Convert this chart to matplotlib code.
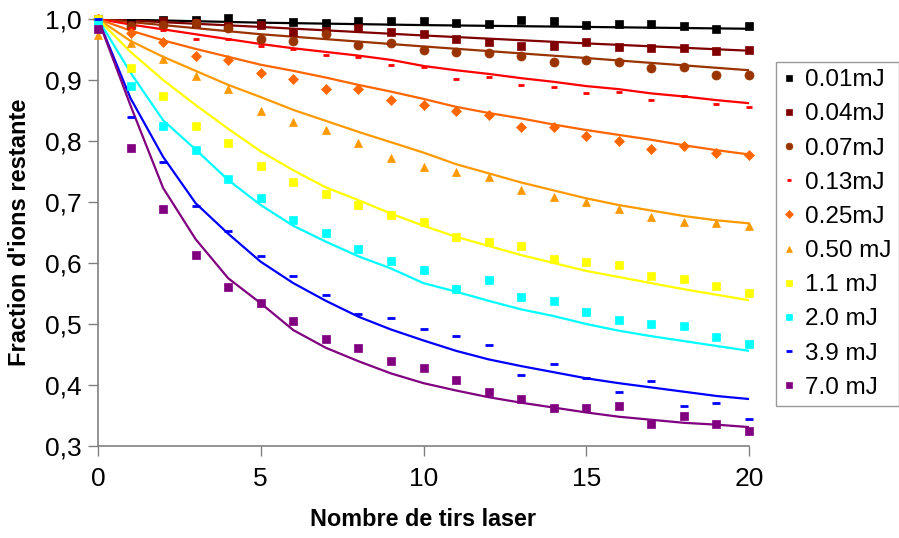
import matplotlib.pyplot as plt
import numpy as np

plt.rcParams["font.family"] = ["Liberation Sans", "DejaVu Sans"]

# Laser shot number
shots = np.arange(21)

# Measured fraction of remaining ions, one list per laser energy
energies = ["0.01mJ", "0.04mJ", "0.07mJ", "0.13mJ", "0.25mJ",
            "0.50 mJ", "1.1 mJ", "2.0 mJ", "3.9 mJ", "7.0 mJ"]

meas_001 = [1.0, 0.993, 0.999, 0.998, 1.002, 0.994, 0.995, 0.993, 0.996, 0.996, 0.996,
            0.994, 0.991, 0.998, 0.997, 0.990, 0.992, 0.992, 0.989, 0.983, 0.989]
meas_004 = [1.0, 0.990, 0.997, 0.993, 0.988, 0.990, 0.979, 0.981, 0.985, 0.979, 0.975,
            0.968, 0.962, 0.955, 0.956, 0.963, 0.954, 0.952, 0.952, 0.947, 0.950]
meas_007 = [1.0, 0.988, 0.990, 0.994, 0.985, 0.968, 0.964, 0.975, 0.957, 0.960, 0.950,
            0.946, 0.945, 0.940, 0.930, 0.932, 0.930, 0.920, 0.922, 0.909, 0.908]
meas_013 = [1.0, 0.986, 0.982, 0.967, 0.967, 0.955, 0.951, 0.941, 0.937, 0.925, 0.922,
            0.902, 0.905, 0.891, 0.888, 0.878, 0.880, 0.867, 0.873, 0.860, 0.856]
meas_025 = [1.0, 0.977, 0.963, 0.940, 0.933, 0.911, 0.902, 0.886, 0.885, 0.867, 0.859,
            0.849, 0.842, 0.823, 0.823, 0.808, 0.800, 0.787, 0.792, 0.781, 0.777]
meas_050 = [0.974, 0.961, 0.935, 0.907, 0.886, 0.850, 0.831, 0.818, 0.796, 0.772, 0.758,
            0.749, 0.741, 0.719, 0.708, 0.700, 0.688, 0.676, 0.667, 0.666, 0.661]
meas_11 = [1.0, 0.919, 0.874, 0.824, 0.797, 0.759, 0.732, 0.713, 0.695, 0.679, 0.667,
           0.642, 0.634, 0.628, 0.606, 0.601, 0.597, 0.579, 0.573, 0.563, 0.551]
meas_20 = [0.995, 0.890, 0.825, 0.785, 0.737, 0.706, 0.670, 0.649, 0.623, 0.604, 0.589,
           0.558, 0.572, 0.545, 0.538, 0.519, 0.506, 0.500, 0.496, 0.479, 0.468]
meas_39 = [1.0, 0.839, 0.766, 0.693, 0.653, 0.611, 0.578, 0.548, 0.516, 0.510, 0.492,
           0.481, 0.466, 0.416, 0.434, 0.411, 0.389, 0.406, 0.366, 0.370, 0.344]
meas_70 = [0.983, 0.789, 0.688, 0.613, 0.560, 0.534, 0.505, 0.475, 0.460, 0.440, 0.428,
           0.408, 0.389, 0.377, 0.363, 0.362, 0.366, 0.336, 0.350, 0.336, 0.325]

# Model curves
fit_x_coarse = [0, 5, 10, 15, 20]
fit_001 = [1.0, 0.994, 0.990, 0.987, 0.984]
fit_004 = [1.0, 0.987, 0.973, 0.960, 0.948]
fit_007 = [1.0, 0.975, 0.955, 0.936, 0.916]
fit_013 = [1.0, 0.991, 0.983, 0.975, 0.967, 0.959, 0.952, 0.946, 0.940, 0.933, 0.923,
           0.916, 0.910, 0.903, 0.897, 0.890, 0.885, 0.878, 0.873, 0.867, 0.862]
fit_025 = [1.0, 0.981, 0.965, 0.951, 0.938, 0.925, 0.915, 0.904, 0.892, 0.881, 0.869,
           0.856, 0.846, 0.837, 0.827, 0.818, 0.810, 0.802, 0.793, 0.785, 0.778]
fit_050 = [1.0, 0.964, 0.938, 0.915, 0.892, 0.872, 0.851, 0.833, 0.815, 0.798, 0.781,
           0.762, 0.747, 0.732, 0.719, 0.706, 0.695, 0.686, 0.677, 0.670, 0.665]
fit_11 = [1.0, 0.946, 0.900, 0.859, 0.820, 0.783, 0.752, 0.724, 0.703, 0.681, 0.661,
          0.643, 0.628, 0.613, 0.600, 0.587, 0.577, 0.567, 0.557, 0.548, 0.539]
fit_20 = [1.0, 0.912, 0.834, 0.786, 0.736, 0.695, 0.661, 0.635, 0.611, 0.591, 0.567,
          0.553, 0.538, 0.524, 0.513, 0.500, 0.489, 0.480, 0.472, 0.464, 0.456]
fit_39 = [1.0, 0.870, 0.774, 0.698, 0.648, 0.602, 0.567, 0.538, 0.512, 0.491, 0.473,
          0.456, 0.442, 0.431, 0.421, 0.411, 0.403, 0.396, 0.389, 0.382, 0.377]
fit_70 = [1.0, 0.858, 0.723, 0.639, 0.575, 0.534, 0.490, 0.461, 0.439, 0.419, 0.403,
          0.391, 0.380, 0.371, 0.363, 0.355, 0.348, 0.343, 0.338, 0.335, 0.331]

y_ticks = [0.3, 0.4, 0.5, 0.6, 0.7, 0.8, 0.9, 1.0]
y_tick_labels = ["0,3", "0,4", "0,5", "0,6", "0,7", "0,8", "0,9", "1,0"]
x_ticks = [0, 5, 10, 15, 20]

colors = ["#000000", "#800000", "#993300", "#FF0000", "#FF6600",
          "#FF9900", "#FFFF00", "#00FFFF", "#0000FF", "#800080"]
markers = ["s", "s", "o", "_", "D", "^", "s", "s", "_", "s"]
msizes = [6, 6, 6.5, 3.8, 5, 6, 6, 6, 6, 6]

measured = [meas_001, meas_004, meas_007, meas_013, meas_025,
            meas_050, meas_11, meas_20, meas_39, meas_70]
fits = [(fit_x_coarse, fit_001), (fit_x_coarse, fit_004), (fit_x_coarse, fit_007),
        (shots, fit_013), (shots, fit_025), (shots, fit_050), (shots, fit_11),
        (shots, fit_20), (shots, fit_39), (shots, fit_70)]

fig = plt.figure(figsize=(8.99, 5.38), dpi=100)
ax = fig.add_axes([98 / 899, 92 / 538, 651 / 899, 427 / 538])

for (fx, fy), c in zip(fits, colors):
    ax.plot(fx, fy, "-", color=c, linewidth=1.6, zorder=2)

for y, c, m, s, lab in zip(measured, colors, markers, msizes, energies):
    mew = 2.0 if m == "_" else 0.5
    ax.plot(shots, y, linestyle="none", marker=m, markersize=s, color=c,
            markeredgecolor=c, markeredgewidth=mew, label=lab,
            clip_on=False, zorder=3)

ax.set_xlim(0, 20)
ax.set_ylim(0.3, 1.0)
ax.set_xticks(x_ticks)
ax.set_yticks(y_ticks)
ax.set_yticklabels(y_tick_labels)
ax.tick_params(axis="both", direction="out", length=7, width=1, color="#808080",
               labelsize=19)
ax.tick_params(axis="x", pad=8)
ax.tick_params(axis="y", pad=5)

for side in ["top", "right"]:
    ax.spines[side].set_visible(False)
for side in ["left", "bottom"]:
    ax.spines[side].set_color("#808080")
    ax.spines[side].set_linewidth(1.2)

ax.set_xlabel("Nombre de tirs laser", fontsize=16.8, fontweight="bold", labelpad=12)
ax.set_ylabel("Fraction d'ions restante", fontsize=17, fontweight="bold", labelpad=10)

leg = ax.legend(loc="upper left", bbox_to_anchor=(776 / 899, 1 - 62 / 538),
                bbox_transform=fig.transFigure, fontsize=17.5, frameon=True,
                fancybox=False, edgecolor="#808080", handlelength=0.5,
                handletextpad=0.4, labelspacing=0.5, borderpad=0.3,
                markerscale=0.75, borderaxespad=0)
leg.get_frame().set_linewidth(1.0)

fig.savefig("out.png", dpi=100)
